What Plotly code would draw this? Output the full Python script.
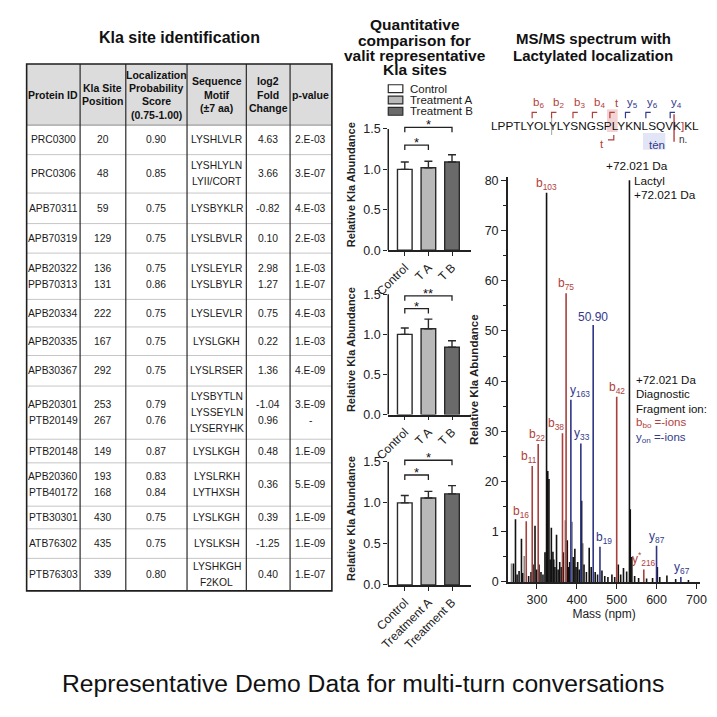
import plotly.graph_objects as go

W, H = 717, 717
FONT = "Liberation Sans, Arial, Helvetica, sans-serif"

# ---------------- data: table ----------------
table_title = "Kla site identification"
table_header = [["Protein ID"], ["Kla Site", "Position"],
                ["Localization", "Probability", "Score", "(0.75-1.00)"],
                ["Sequence", "Motif", "(±7 aa)"], ["log2", "Fold", "Change"], ["p-value"]]
protein_id = ["PRC0300", "PRC0306", "APB70311", "APB70319", "APB20322|PPB70313", "APB20334",
              "APB20335", "APB30367", "APB20301|PTB20149", "PTB20148", "APB20360|PTB40172",
              "PTB30301", "ATB76302", "PTB76303"]
site_position = ["20", "48", "59", "129", "136|131", "222", "167", "292", "253|267", "149",
                 "193|168", "430", "435", "339"]
loc_score = ["0.90", "0.85", "0.75", "0.75", "0.75|0.86", "0.75", "0.75", "0.75", "0.79|0.76",
             "0.87", "0.83|0.84", "0.75", "0.75", "0.80"]
seq_motif = ["LYSHLVLR", "LYSHLYLN|LYII/CORT", "LYSBYKLR", "LYSLBVLR", "LYSLEYLR|LYSLBYLR",
             "LYSLEVLR", "LYSLGKH", "LYSLRSER", "LYSBYTLN|LYSSEYLN|LYSERYHK", "LYSLKGH",
             "LYSLRKH|LYTHXSH", "LYSLKGH", "LYSLKSH", "LYSHKGH|F2KOL"]
log2_fc = ["4.63", "3.66", "-0.82", "0.10", "2.98|1.27", "0.75", "0.22", "1.36", "-1.04|0.96",
           "0.48", "0.36", "0.39", "-1.25", "0.40"]
p_value = ["2.E-03", "3.E-07", "4.E-03", "2.E-03", "1.E-03|1.E-07", "4.E-03", "1.E-03", "4.E-09",
           "3.E-09|-", "1.E-09", "5.E-09", "1.E-09", "1.E-09", "1.E-07"]

# ---------------- data: bar panels ----------------
bar_title = ["Quantitative", "comparison for", "valit representative", "Kla sites"]
bar_groups = ["Control", "Treatment A", "Treatment B"]
bar_ticklabels = [["Control", "T A", "T B"], ["Control", "T A", "T B"],
                  ["Control", "Treatment A", "Treatment B"]]
bar_means = [[1.00, 1.02, 1.09], [1.00, 1.07, 0.84], [1.00, 1.06, 1.11]]
bar_errs = [[0.09, 0.08, 0.09], [0.08, 0.12, 0.08], [0.09, 0.08, 0.10]]
bar_sig = [[("*", 0, 1), ("*", 0, 2)], [("*", 0, 1), ("**", 0, 2)], [("*", 0, 1), ("*", 0, 2)]]
bar_ylabel = "Relative Kla Abundance"

# ---------------- data: spectrum ----------------
spec_title = ["MS/MS spectrum with", "Lactylated localization"]
peak_mass = [324, 373, 441, 532, 500, 385, 364, 410, 303, 288, 273, 458, 600, 568, 661]
peak_int = [77.5, 57.5, 51.2, 80.0, 36.9, 36.3, 29.6, 27.6, 27.5, 23.1, 12.1, 7.0, 7.2, 2.5, 1.0]
peak_label = ["b<sub>103</sub>", "b<sub>75</sub>", "50.90", "", "b<sub>42</sub>", "y<sub>163</sub>",
              "b<sub>38</sub>", "y<sub>33</sub>", "b<sub>22</sub>", "b<sub>11</sub>", "b<sub>16</sub>",
              "b<sub>19</sub>", "y<sub>87</sub>", "y<sup>*</sup><sub>216</sub>", "y<sub>67</sub>"]
peak_line_kind = ["k", "b", "y", "k", "b", "y", "b", "y", "b", "b", "b", "y", "y", "b", "y"]
peak_label_kind = ["b", "b", "y", "k", "b", "y", "b", "y", "b", "b", "b", "y", "y", "b", "y"]
noise_mass = [241, 246, 250, 255, 261, 264, 279, 285, 290, 295, 299, 305, 310, 315, 320, 327,
              330, 333, 336, 340, 342, 345, 349, 353, 357, 361, 366, 376, 379, 382, 391, 395,
              398, 402, 406, 412, 418, 424, 431, 436, 446, 452, 463, 470, 478, 488, 495, 504,
              510, 517, 525, 534, 538, 545, 555, 575, 590, 602, 608, 626, 648, 680]
noise_int = [3.7, 12.5, 1.5, 2.2, 8.6, 1.8, 1.2, 2.0, 3.5, 11.2, 2.5, 3.5, 2.0, 1.5, 5.9, 22.1,
             20.5, 4.5, 10.8, 6.0, 4.5, 3.0, 9.4, 2.5, 4.0, 3.0, 5.9, 8.3, 3.0, 4.0, 5.0, 6.6,
             3.0, 4.0, 2.5, 16.2, 3.5, 2.0, 6.8, 3.0, 2.0, 1.5, 2.3, 1.2, 1.0, 1.5, 1.0, 3.5,
             1.5, 2.8, 2.1, 14.5, 5.0, 1.2, 0.8, 0.7, 0.8, 3.0, 1.0, 1.3, 0.6, 0.4]
faint_mass = [236, 268, 323, 371, 388, 415]
faint_int = [3.7, 5.2, 6.0, 12.3, 12.0, 7.7]
spec_xticks = [300, 400, 500, 600, 700]
spec_yticks = [0, 10, 20, 30, 40, 50, 60, 70, 80]
spec_yticktext = ["0", "1", "20", "30", "40", "50", "60", "70", "80"]
spec_notes_top = ["+72.021 Da", "Lactyl", "+72.021 Da"]
spec_notes_side = ["+72.021 Da", "Diagnostic", "Fragment ion:", "b<sub>bo</sub> =-ions", "y<sub>on</sub> =-ions"]
caption = "Representative Demo Data for multi-turn conversations"

# ---------------- styles / layout constants ----------------
RED, BLUE = "#b0413c", "#333a8c"
group_colors = ["#ffffff", "#b9b9b9", "#6a6a6a"]
tbl_cols = [13, 68, 115, 178, 239, 284, 327]
tbl_top, tbl_head_bot = 61, 123
tbl_rows = [123, 153, 192, 223, 253, 300, 328, 357, 388, 442, 466, 510, 533, 563, 596]
bar_px = [(250, 117), (417, 285), (590, 455)]
bar_levels = [[1.30, 1.52], [1.32, 1.48], [1.34, 1.52]]
bar_x0, bar_x1 = 385, 470
label_dx = [0, 0, 0, 0, 0, 9, -6, 1, -1, -3, -5, 4, 0, 0, 1]

A, S = [], []


def T(x, y, text, size=11, color="#111", bold=False, xa="center", ya="middle"):
    if bold:
        text = "<b>" + text + "</b>"
    A.append(dict(x=x / W, y=1 - y / H, xref="paper", yref="paper", text=text, showarrow=False,
                  xanchor=xa, yanchor=ya, borderpad=0,
                  font=dict(family=FONT, size=size, color=color)))


def L(x0, y0, x1, y1, color, width):
    S.append(dict(type="line", xref="paper", yref="paper", x0=x0 / W, y0=1 - y0 / H,
                  x1=x1 / W, y1=1 - y1 / H, line=dict(color=color, width=width)))


def R(x0, y0, x1, y1, fill, lc="rgba(0,0,0,0)", lw=0):
    S.append(dict(type="rect", xref="paper", yref="paper", x0=x0 / W, y0=1 - y0 / H,
                  x1=x1 / W, y1=1 - y1 / H, fillcolor=fill, line=dict(color=lc, width=lw)))


def P(d, color, width):
    S.append(dict(type="path", xref="paper", yref="paper",
                  path=d, line=dict(color=color, width=width)))


def px(x, y):
    return f"{x / W:.5f},{1 - y / H:.5f}"


fig = go.Figure()

# ---------------- table ----------------
T((tbl_cols[0] + tbl_cols[-1]) / 2, 34, table_title, size=16, bold=True)
R(tbl_cols[0], tbl_top, tbl_cols[-1], tbl_head_bot, "#dcdcdc")
for y in tbl_rows[1:-1]:
    L(tbl_cols[0], y, tbl_cols[-1], y, "#c6c6c6", 1)
L(tbl_cols[0], tbl_head_bot, tbl_cols[-1], tbl_head_bot, "#8a8a8a", 1)
for x in tbl_cols[1:-1]:
    L(x, tbl_top, x, tbl_rows[-1], "#2a2a2a", 1.2)
R(tbl_cols[0], tbl_top, tbl_cols[-1], tbl_rows[-1], "rgba(0,0,0,0)", "#1e1e1e", 1.6)

centers = [(tbl_cols[i] + tbl_cols[i + 1]) / 2 for i in range(6)]
for c, lines in enumerate(table_header):
    n = len(lines)
    cy = (tbl_top + tbl_head_bot) / 2
    for i, t in enumerate(lines):
        T(centers[c], cy + (i - (n - 1) / 2) * 13.5, t, size=10.5, bold=True)

columns = [protein_id, site_position, loc_score, seq_motif, log2_fc, p_value]
for g in range(len(protein_id)):
    top, bot = tbl_rows[g], tbl_rows[g + 1]
    for c, col in enumerate(columns):
        lines = col[g].split("|")
        n = len(lines)
        sp = min((bot - top) / n, 16.5)
        cy = (top + bot) / 2
        for i, t in enumerate(lines):
            T(centers[c], cy + (i - (n - 1) / 2) * sp, t, size=10.3, color="#1a1a1a")

# ---------------- bar panels ----------------
for i, t in enumerate(bar_title):
    T(412, [21, 37, 52, 67][i], t, size=15.5, bold=True)
for i, g in enumerate(bar_groups):
    yc = [86, 97.5, 109][i]
    R(bar_x0, yc - 4, bar_x0 + 15, yc + 4, group_colors[i], "#2a2a2a", 1.2)
    T(bar_x0 + 21, yc, g, size=11.5, xa="left", color="#1a1a1a")

for k in range(3):
    xs = "x" if k == 0 else f"x{k + 1}"
    ys = "y" if k == 0 else f"y{k + 1}"
    fig.add_trace(go.Bar(
        x=[0, 1, 2], y=bar_means[k], xaxis=xs, yaxis=ys, width=0.62,
        marker=dict(color=group_colors, line=dict(color="#2a2a2a", width=1.4)),
        error_y=dict(type="data", symmetric=False, array=bar_errs[k], arrayminus=[0, 0, 0],
                     color="#2a2a2a", thickness=1.4, width=4),
        showlegend=False, hoverinfo="skip"))
    y0, y1 = bar_px[k]
    fig.layout["xaxis" if k == 0 else f"xaxis{k + 1}"] = dict(
        domain=[bar_x0 / W, bar_x1 / W], range=[-0.7, 2.8], anchor=ys,
        tickmode="array", tickvals=[0, 1, 2], ticktext=bar_ticklabels[k], tickangle=-45,
        showline=True, linecolor="#222", linewidth=1.5, ticks="outside", ticklen=4,
        tickcolor="#222", showgrid=False, zeroline=False,
        tickfont=dict(family=FONT, size=12, color="#222"))
    fig.layout["yaxis" if k == 0 else f"yaxis{k + 1}"] = dict(
        domain=[(H - y0) / H, (H - y1) / H], range=[0, 1.62], anchor=xs,
        tickmode="array", tickvals=[0, 0.5, 1.0, 1.5], ticktext=["0.0", "0.5", "1.0", "1.5"],
        ticks="outside", ticklen=4, tickcolor="#222", showline=False, showgrid=False,
        zeroline=False, tickfont=dict(family=FONT, size=12.5, color="#222"),
        title=dict(text="<b>" + bar_ylabel + "</b>", standoff=5,
                   font=dict(family=FONT, size=11, color="#222")))
    S.append(dict(type="line", xref="paper", yref=ys, x0=bar_x0 / W, x1=bar_x0 / W, y0=0, y1=1.5,
                  line=dict(color="#222", width=1.5)))
    for (star, a, b), lev in zip(bar_sig[k], bar_levels[k]):
        S.append(dict(type="path", xref=xs, yref=ys,
                      path=f"M {a},{lev - 0.06} L {a},{lev} L {b},{lev} L {b},{lev - 0.06}",
                      line=dict(color="#222", width=1.3)))
        A.append(dict(x=(a + b) / 2, y=lev, xref=xs, yref=ys, text=star, showarrow=False,
                      yanchor="bottom", yshift=-6, borderpad=0,
                      font=dict(family=FONT, size=13, color="#111")))

# ---------------- spectrum ----------------
for i, t in enumerate(spec_title):
    T(596, [35, 52][i], t, size=15, bold=True)


def sticks(ms, hs):
    xs, ys = [], []
    for m, h in zip(ms, hs):
        xs += [m, m, None]
        ys += [0, h, None]
    return xs, ys


fx, fy = sticks(faint_mass, faint_int)
fig.add_trace(go.Scatter(x=fx, y=fy, mode="lines", xaxis="x4", yaxis="y4",
                         line=dict(color="#8a8a8a", width=1.6), showlegend=False, hoverinfo="skip"))
nx, ny = sticks(noise_mass, noise_int)
fig.add_trace(go.Scatter(x=nx, y=ny, mode="lines", xaxis="x4", yaxis="y4",
                         line=dict(color="#111", width=1.6), showlegend=False, hoverinfo="skip"))
kind_color = {"k": "#111", "b": "#a8403b", "y": "#2f3585"}
for kind in ["b", "y", "k"]:
    sel = [i for i, kd in enumerate(peak_line_kind) if kd == kind]
    px_, py_ = sticks([peak_mass[i] for i in sel], [peak_int[i] for i in sel])
    fig.add_trace(go.Scatter(x=px_, y=py_, mode="lines", xaxis="x4", yaxis="y4",
                             line=dict(color=kind_color[kind], width=1.6),
                             showlegend=False, hoverinfo="skip"))
label_color = {"k": "#111", "b": RED, "y": BLUE}
for i, lab in enumerate(peak_label):
    if lab:
        A.append(dict(x=peak_mass[i], y=peak_int[i], xref="x4", yref="y4", text=lab,
                      showarrow=False, yanchor="bottom", xshift=label_dx[i], yshift=0,
                      borderpad=0,
                      font=dict(family=FONT, size=12, color=label_color[peak_label_kind[i]])))

fig.layout.xaxis4 = dict(domain=[508 / W, 706 / W], range=[226.8, 709.8], anchor="y4",
                         tickmode="array", tickvals=spec_xticks, ticks="outside", ticklen=5,
                         tickcolor="#222", showline=True, linecolor="#222", linewidth=1.5,
                         showgrid=False, zeroline=False,
                         tickfont=dict(family=FONT, size=12.5, color="#222"),
                         title=dict(text="Mass (npm)", standoff=2,
                                    font=dict(family=FONT, size=12, color="#222")))
fig.layout.yaxis4 = dict(domain=[(H - 587) / H, (H - 176) / H], range=[0, 80.6], anchor="x4",
                         tickmode="array", tickvals=spec_yticks, ticktext=spec_yticktext,
                         ticks="outside", ticklen=5, tickcolor="#222", showline=True,
                         linecolor="#222", linewidth=1.5, showgrid=False, zeroline=False,
                         minor=dict(ticks="outside", ticklen=3, tickcolor="#222",
                                    tickvals=[5, 15, 25, 35, 45, 55, 65, 75]),
                         tickfont=dict(family=FONT, size=12.5, color="#222"),
                         title=dict(text="<b>" + bar_ylabel + "</b>", standoff=4,
                                    font=dict(family=FONT, size=11.5, color="#222")))

# annotations inside spectrum
for t, (x, y) in zip(spec_notes_top, [(608, 165), (637, 180), (637, 194)]):
    T(x, y, t, size=11.8, xa="left")
side_colors = ["#111", "#111", "#111", RED, BLUE]
for t, y, col in zip(spec_notes_side, [382, 396.5, 411, 425.5, 441], side_colors):
    T(639, y, t, size=11.5, xa="left", color=col)

# peptide sequence with fragment markers
R(610, 107, 621, 130, "rgba(220,130,130,0.35)")
R(647, 131, 670, 148, "rgba(160,170,225,0.30)")
T(490, 124, "LPPTLYOLYLYSNGSPLYKNLSQVK<span style='color:#b0413c'>]</span>KL", size=11.8, xa="left", color="#111")
L(553, 116, 553, 133, "#b0b0b0", 1.2)
L(679, 112, 679, 140, RED, 1.4)
for xb, lab, col in [(533, "b<sub>6</sub>", RED), (553, "b<sub>2</sub>", RED), (575, "b<sub>3</sub>", RED),
                     (595, "b<sub>4</sub>", RED), (613, "t", RED), (629, "y<sub>5</sub>", BLUE),
                     (650, "y<sub>6</sub>", BLUE), (675, "y<sub>4</sub>", BLUE)]:
    P("M " + px(xb, 116) + " L " + px(xb, 110) + " L " + px(xb + 5, 110), col, 1.2)
    T(xb + 7, 101, lab, size=11.5, color=col)
P("M " + px(611, 138) + " L " + px(617, 138) + " L " + px(617, 133), RED, 1.2)
T(605, 142, "t", size=11.5, color=RED)
T(661, 143, "tėn", size=11.5, color=BLUE)
T(688, 138, "n.", size=10, color="#333")

# caption
T(359, 690, caption, size=24.7, color="#111")

fig.update_layout(width=W, height=H, margin=dict(l=0, r=0, t=0, b=0),
                  paper_bgcolor="white", plot_bgcolor="rgba(0,0,0,0)",
                  annotations=A, shapes=S, bargap=0.3, showlegend=False,
                  font=dict(family=FONT, color="#111"))
fig.write_html("out.html")
